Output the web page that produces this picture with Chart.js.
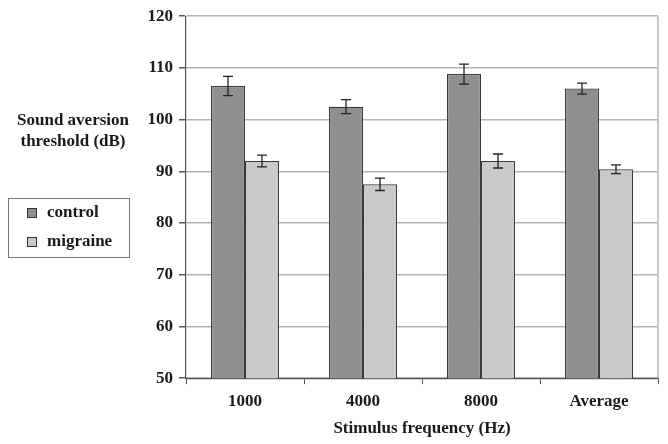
<!DOCTYPE html>
<html>
<head>
<meta charset="utf-8">
<script src="https://cdn.jsdelivr.net/npm/chart.js@4"></script>
<style>
  html, body { margin: 0; padding: 0; background: #fff; }
  #wrap { width: 668px; height: 444px; }
</style>
</head>
<body>
<div id="wrap"><canvas id="chart" width="668" height="444"></canvas></div>
<script>
const categories = ['1000', '4000', '8000', 'Average'];
const controlMean = [106.5, 102.5, 108.8, 106.0];
const controlErr = [1.85, 1.35, 1.95, 1.05];
const migraineMean = [92.0, 87.5, 92.0, 90.4];
const migraineErr = [1.15, 1.2, 1.35, 0.85];
const yTitleLines = ['Sound aversion', 'threshold (dB)'];

const FONT = '"Liberation Serif", "Times New Roman", serif';

// error bars drawn over each bar
const errorBars = {
  id: 'errorBars',
  afterDatasetsDraw(chart) {
    const ctx = chart.ctx;
    const y = chart.scales.y;
    ctx.save();
    ctx.strokeStyle = '#222';
    ctx.lineWidth = 1.3;
    chart.data.datasets.forEach((ds, i) => {
      const meta = chart.getDatasetMeta(i);
      meta.data.forEach((bar, j) => {
        const v = ds.data[j], e = ds.errors[j];
        const top = y.getPixelForValue(v + e);
        const bot = y.getPixelForValue(v - e);
        ctx.beginPath();
        ctx.moveTo(bar.x, top); ctx.lineTo(bar.x, bot);
        ctx.moveTo(bar.x - 5, top); ctx.lineTo(bar.x + 5, top);
        ctx.moveTo(bar.x - 5, bot); ctx.lineTo(bar.x + 5, bot);
        ctx.stroke();
      });
    });
    ctx.restore();
  }
};

// horizontal y title, boxed legend, right frame line
const extras = {
  id: 'extras',
  afterDraw(chart) {
    const ctx = chart.ctx;
    const a = chart.chartArea;
    ctx.save();
    ctx.strokeStyle = '#b4b4b4';
    ctx.lineWidth = 1.5;
    ctx.beginPath();
    ctx.moveTo(a.right, a.top); ctx.lineTo(a.right, a.bottom);
    ctx.stroke();

    ctx.fillStyle = '#1a1a1a';
    ctx.font = 'bold 17px ' + FONT;
    ctx.textAlign = 'center';
    ctx.textBaseline = 'middle';
    yTitleLines.forEach((t, i) => ctx.fillText(t, 73, 121 + i * 21));

    // legend
    ctx.strokeStyle = '#777';
    ctx.lineWidth = 1;
    ctx.strokeRect(8.5, 198.5, 121, 59);
    ctx.textAlign = 'left';
    chart.data.datasets.forEach((ds, i) => {
      const cy = 213 + i * 29;
      ctx.fillStyle = ds.backgroundColor;
      ctx.fillRect(27, cy - 5, 10, 10);
      ctx.strokeStyle = '#333';
      ctx.strokeRect(27.5, cy - 4.5, 9, 9);
      ctx.fillStyle = '#1a1a1a';
      ctx.fillText(ds.label, 47, cy);
    });
    ctx.restore();
  }
};

new Chart(document.getElementById('chart'), {
  type: 'bar',
  data: {
    labels: categories,
    datasets: [
      { label: 'control', data: controlMean, errors: controlErr,
        backgroundColor: '#8e8f91', borderColor: '#3a3a3a', borderWidth: 1.2 },
      { label: 'migraine', data: migraineMean, errors: migraineErr,
        backgroundColor: '#c9cacc', borderColor: '#3a3a3a', borderWidth: 1.2 }
    ]
  },
  options: {
    responsive: false,
    animation: false,
    layout: { padding: { top: 14, right: 10, left: 0, bottom: 5 } },
    datasets: { bar: { categoryPercentage: 0.576, barPercentage: 1.0 } },
    plugins: { legend: { display: false }, tooltip: { enabled: false } },
    scales: {
      x: {
        grid: { offset: true, drawOnChartArea: false, tickLength: 6, tickColor: '#555', lineWidth: 1 },
        border: { color: '#555', width: 1.2 },
        ticks: { color: '#1a1a1a', font: { family: FONT, size: 17, weight: 'bold' }, padding: 7 },
        title: { display: true, text: 'Stimulus frequency (Hz)', color: '#1a1a1a',
                 font: { family: FONT, size: 17, weight: 'bold' }, padding: { top: 0, bottom: 0 } }
      },
      y: {
        min: 50, max: 120,
        ticks: { stepSize: 10, color: '#1a1a1a', font: { family: FONT, size: 17, weight: 'bold' }, padding: 6 },
        grid: { color: '#b4b4b4', lineWidth: 1.5, tickLength: 7, tickColor: '#555' },
        border: { color: '#555', width: 1.2 },
        afterFit(s) { s.width = 186; }
      }
    }
  },
  plugins: [errorBars, extras]
});
</script>
</body>
</html>
